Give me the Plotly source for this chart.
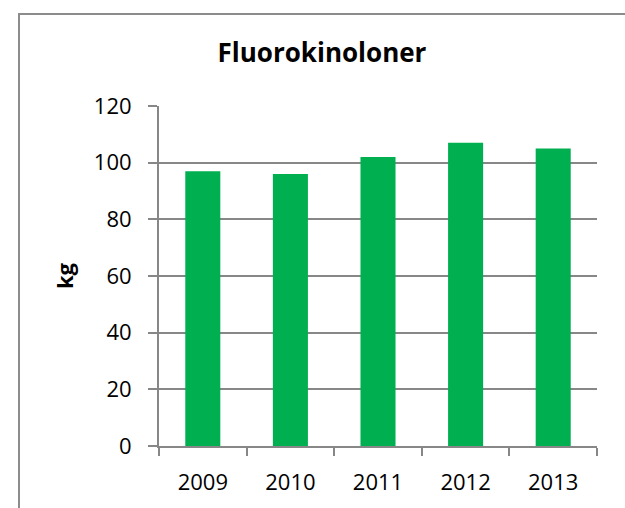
import plotly.graph_objects as go

years = ["2009", "2010", "2011", "2012", "2013"]
kg = [97, 96, 102, 107, 105]
y_ticks = [0, 20, 40, 60, 80, 100, 120]

title_text = "Fluorokinoloner"
y_title = "kg"

W, H = 625, 508
ml, mr, mt, mb = 159, 28, 106, 58
pw = W - ml - mr
ph = H - mt - mb

grid = "#878787"

fig = go.Figure()
fig.add_trace(go.Bar(x=years, y=kg, marker=dict(color="#00B050", line=dict(width=0)),
                     hoverinfo="x+y"))

# outer chart border (extends beyond the right/bottom of the image)
fig.add_shape(type="rect", xref="paper", yref="paper",
              x0=(19 - ml) / pw, x1=(W + 10 - ml) / pw,
              y0=-(H + 10 - (H - mb)) / ph, y1=(H - mb - 13) / ph,
              line=dict(color="#8c8c8c", width=2), fillcolor="rgba(0,0,0,0)", layer="below")

fig.update_layout(
    width=W, height=H,
    margin=dict(l=ml, r=mr, t=mt, b=mb, pad=0),
    paper_bgcolor="white", plot_bgcolor="white",
    bargap=0.6,
    showlegend=False,
    font=dict(family="Open Sans", color="black", size=22),
    title=dict(text="<b>" + title_text + "</b>", font=dict(family="Open Sans", size=26, color="black"),
               x=322 / W, xref="container", xanchor="center",
               y=1 - 53 / H, yref="container", yanchor="middle"),
)
fig.update_xaxes(
    type="category", showline=True, linecolor=grid, linewidth=2,
    ticks="outside", ticklen=8, tickcolor=grid, tickwidth=2,
    tickson="boundaries", showgrid=False,
    tickfont=dict(size=22, color="black"), ticklabelstandoff=16,
)
fig.update_yaxes(
    range=[0, 120], tickvals=y_ticks, showline=True, linecolor=grid, linewidth=2,
    ticks="outside", ticklen=9, tickcolor=grid, tickwidth=2,
    showgrid=True, gridcolor=grid, gridwidth=2, zeroline=False,
    tickfont=dict(size=22, color="black"), ticklabelstandoff=12,
    title=dict(text="<b>" + y_title + "</b>", font=dict(size=22, color="black"), standoff=14),
)

fig.write_html("out.html", config={"displayModeBar": False})

# remove default browser body margin so the figure sits at the page origin
with open("out.html", "r", encoding="utf-8") as f:
    html = f.read()
html = html.replace("<body>", '<body style="margin:0;padding:0;overflow:hidden">', 1)
with open("out.html", "w", encoding="utf-8") as f:
    f.write(html)
